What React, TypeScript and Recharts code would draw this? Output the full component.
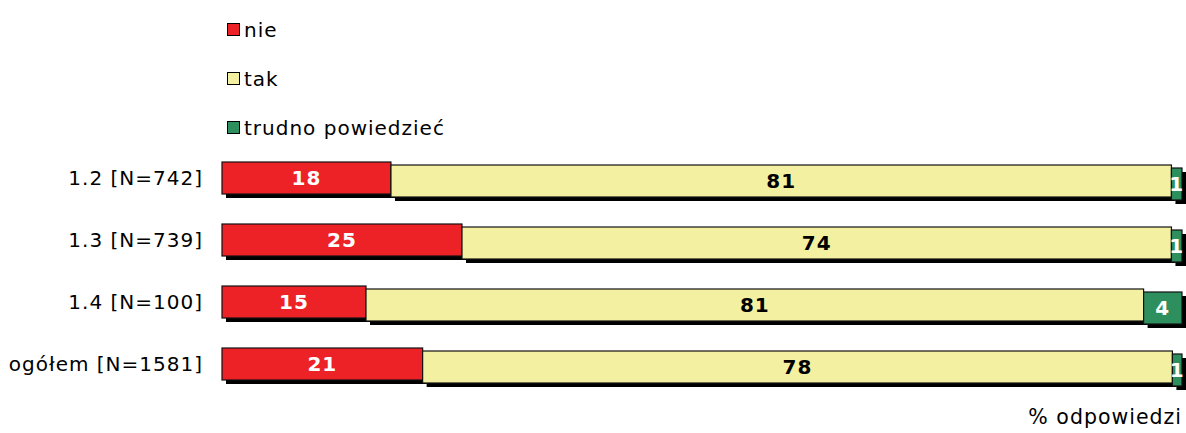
import React from 'react';
import { BarChart, Bar, XAxis, YAxis, Legend, LabelList } from 'recharts';

const categories = ['1.2 [N=742]', '1.3 [N=739]', '1.4 [N=100]', 'ogółem [N=1581]'];
const nie = [17.6, 25.0, 15.0, 20.9];
const tak = [81.3, 73.9, 81.0, 78.1];
const trudno = [1.1, 1.1, 4.0, 1.0];

const seriesKeys = ['nie', 'tak', 'trudno'];
const seriesNames = ['nie', 'tak', 'trudno powiedzieć'];
const seriesColors = ['#ED2226', '#F3F1A1', '#2E8F5E'];
const labelColors = ['#ffffff', '#000000', '#ffffff'];

const FONT = '"DejaVu Sans", Verdana, sans-serif';

const data = categories.map((name, i) => ({
  name,
  nie: nie[i],
  tak: tak[i],
  trudno: trudno[i],
}));

// each series sits a bit lower than the previous one, like in the original
const makeShape = (idx: number) => (props: any) => {
  const { x, y, width, height, fill } = props;
  const dy = idx * 3;
  return (
    <g>
      <rect x={x + 4} y={y + dy + 4} width={width} height={height} fill="#000" />
      <rect x={x} y={y + dy} width={width} height={height} fill={fill} stroke="#111" strokeWidth={1.2} />
    </g>
  );
};

const makeLabel = (idx: number) => (props: any) => {
  const { x, y, width, height, value } = props;
  return (
    <text
      x={x + width / 2}
      y={y + height / 2 + idx * 3}
      textAnchor="middle"
      dominantBaseline="central"
      fill={labelColors[idx]}
      fontFamily={FONT}
      fontWeight="bold"
      fontSize={20}
      letterSpacing={1}
    >
      {Math.round(value)}
    </text>
  );
};

const renderLegend = () => (
  <div style={{ fontFamily: FONT, fontSize: 20, letterSpacing: 1, color: '#000' }}>
    {seriesNames.map((n, i) => (
      <div key={n} style={{ display: 'flex', alignItems: 'center', height: 49 }}>
        <span
          style={{
            display: 'inline-block',
            width: 11,
            height: 11,
            background: seriesColors[i],
            border: '1.5px solid #000',
            marginRight: 4,
          }}
        />
        <span>{n}</span>
      </div>
    ))}
  </div>
);

const renderAxisLabel = (props: any) => {
  const { viewBox } = props;
  return (
    <text
      x={viewBox.x + viewBox.width}
      y={viewBox.y + 29}
      textAnchor="end"
      fontFamily={FONT}
      fontSize={20.5}
      letterSpacing={1}
      fill="#000"
    >
      % odpowiedzi
    </text>
  );
};

export default function App() {
  return (
    <div style={{ position: 'absolute', left: 0, top: 0 }}>
      <BarChart
        width={1186}
        height={433}
        data={data}
        layout="vertical"
        margin={{ top: 147, right: 4, bottom: 0, left: 0 }}
        barSize={32}
      >
        <XAxis
          type="number"
          domain={[0, 100]}
          height={38}
          tick={false}
          axisLine={false}
          tickLine={false}
          label={{ content: renderAxisLabel }}
        />
        <YAxis
          type="category"
          dataKey="name"
          width={222}
          axisLine={false}
          tickLine={false}
          tickSize={0}
          tickMargin={19}
          tick={{ fontFamily: FONT, fontSize: 20, fill: '#000', letterSpacing: 1 }}
        />
        <Legend
          content={renderLegend}
          layout="vertical"
          verticalAlign="middle"
          align="center"
          wrapperStyle={{ top: 5, left: 227, width: 300 }}
        />
        {seriesKeys.map((k, i) => (
          <Bar
            key={k}
            dataKey={k}
            name={seriesNames[i]}
            stackId="a"
            fill={seriesColors[i]}
            shape={makeShape(i)}
            isAnimationActive={false}
          >
            <LabelList dataKey={k} content={makeLabel(i)} />
          </Bar>
        ))}
      </BarChart>
    </div>
  );
}
